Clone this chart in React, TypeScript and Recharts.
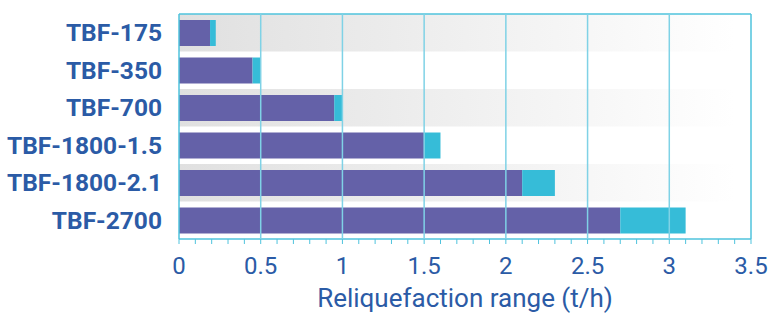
import { BarChart, Bar, XAxis, YAxis, ReferenceLine, ReferenceArea } from 'recharts';

const models = ['TBF-175', 'TBF-350', 'TBF-700', 'TBF-1800-1.5', 'TBF-1800-2.1', 'TBF-2700'];
const minRange = [0.19, 0.45, 0.95, 1.5, 2.1, 2.7];
const maxRange = [0.225, 0.5, 1.0, 1.6, 2.3, 3.1];
const shadedRows = ['TBF-175', 'TBF-700', 'TBF-1800-2.1'];

const majorTicks = [0, 0.5, 1, 1.5, 2, 2.5, 3, 3.5];
const minorTicks = [
  0, 0.1, 0.2, 0.3, 0.4, 0.5, 0.6, 0.7, 0.8, 0.9, 1, 1.1, 1.2, 1.3, 1.4, 1.5, 1.6, 1.7,
  1.8, 1.9, 2, 2.1, 2.2, 2.3, 2.4, 2.5, 2.6, 2.7, 2.8, 2.9, 3, 3.1, 3.2, 3.3, 3.4, 3.5,
];

const data = models.map((name, i) => ({
  name,
  min: minRange[i],
  extra: +(maxRange[i] - minRange[i]).toFixed(3),
}));

const BLUE = '#2b5ba6';
const CYAN = '#4fc3dd';

function BottomTick(props: any) {
  const { x, y, payload } = props;
  if (!majorTicks.includes(payload.value)) return null;
  return (
    <text x={x} y={y} dy="0.71em" textAnchor="middle" fill={BLUE} fontSize={24} fontFamily="Roboto">
      {payload.value}
    </text>
  );
}

function CategoryTick(props: any) {
  const { x, y, payload } = props;
  return (
    <text x={x} y={y} dy="0.355em" textAnchor="end" fill={BLUE} fontSize={24.5} fontWeight={700} fontFamily="Roboto">
      {payload.value}
    </text>
  );
}

export default function App() {
  return (
    <div style={{ position: 'absolute', left: 0, top: 0, background: '#fff' }}>
      <BarChart
        width={770}
        height={316}
        data={data}
        layout="vertical"
        margin={{ top: 9, right: 19, bottom: 9, left: 0 }}
      >
        <defs>
          <linearGradient id="bandGrad" x1="0" y1="0" x2="1" y2="0">
            <stop offset="0%" stopColor="#e0e0e0" />
            <stop offset="100%" stopColor="#ffffff" />
          </linearGradient>
        </defs>
        <XAxis
          xAxisId="bottom"
          type="number"
          domain={[0, 3.5]}
          ticks={minorTicks}
          interval={0}
          height={68}
          tickSize={5}
          tickMargin={13}
          stroke={CYAN}
          tick={<BottomTick />}
          axisLine={{ stroke: CYAN, strokeWidth: 1.5 }}
          tickLine={{ stroke: CYAN }}
          label={{
            value: 'Reliquefaction range (t/h)',
            position: 'insideBottom',
            offset: 0,
            fill: BLUE,
            fontSize: 26,
            fontFamily: 'Roboto',
          }}
        />
        <XAxis
          xAxisId="top"
          orientation="top"
          type="number"
          domain={[0, 3.5]}
          ticks={minorTicks}
          interval={0}
          height={5}
          tickSize={5}
          tick={false}
          axisLine={{ stroke: CYAN, strokeWidth: 1.5 }}
          tickLine={{ stroke: CYAN }}
        />
        <YAxis
          type="category"
          dataKey="name"
          width={179}
          tickSize={0}
          tickMargin={17}
          axisLine={false}
          tickLine={false}
          interval={0}
          tick={<CategoryTick />}
        />
        {shadedRows.map((row) => (
          <ReferenceArea
            key={row}
            xAxisId="bottom"
            x1={0}
            x2={3.4}
            y1={row}
            y2={row}
            fill="url(#bandGrad)"
            fillOpacity={1}
            stroke="none"
          />
        ))}
        <Bar xAxisId="bottom" dataKey="min" stackId="r" fill="#6461a8" barSize={26} isAnimationActive={false} />
        <Bar xAxisId="bottom" dataKey="extra" stackId="r" fill="#36bcd8" barSize={26} isAnimationActive={false} />
        {majorTicks.map((t) => (
          <ReferenceLine
            key={t}
            xAxisId="bottom"
            x={t}
            stroke={t === 0 || t === 3.5 ? CYAN : '#7fd2e6'}
            strokeWidth={1.5}
            zIndex={600}
          />
        ))}
      </BarChart>
    </div>
  );
}
